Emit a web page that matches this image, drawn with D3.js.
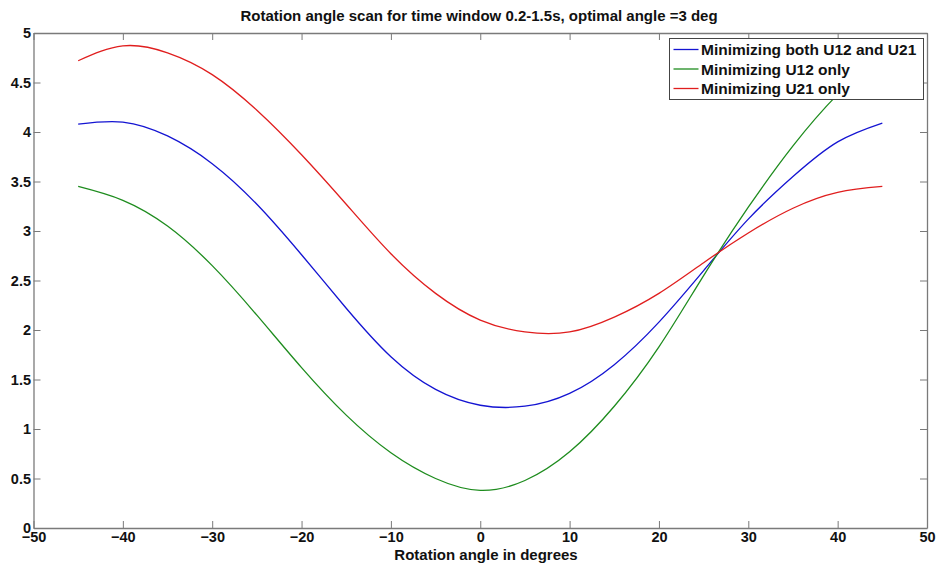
<!DOCTYPE html>
<html>
<head>
<meta charset="utf-8">
<script src="https://cdn.jsdelivr.net/npm/d3@7"></script>
<style>
  body { margin: 0; background: #fff; }
  text { font-family: "Liberation Sans", Arial, sans-serif; font-weight: bold; }
</style>
</head>
<body>
<div id="chart"></div>
<script>
// rotation angle (deg)
var angles = [-45, -40, -35, -30, -25, -20, -15, -10, -5, 0, 5, 10, 15, 20, 25, 30, 35, 40, 45];
// series
var both = [4.08, 4.10, 3.96, 3.68, 3.27, 2.76, 2.22, 1.73, 1.40, 1.24, 1.23, 1.36, 1.65, 2.08, 2.60, 3.12, 3.55, 3.90, 4.09];
var u12only = [3.45, 3.31, 3.05, 2.65, 2.15, 1.62, 1.14, 0.76, 0.50, 0.38, 0.48, 0.77, 1.23, 1.83, 2.55, 3.24, 3.86, 4.38, 4.80];
var u21only = [4.72, 4.87, 4.80, 4.58, 4.22, 3.77, 3.27, 2.77, 2.37, 2.10, 1.98, 1.98, 2.13, 2.37, 2.68, 2.98, 3.23, 3.39, 3.45];
var xTicks = [-50, -40, -30, -20, -10, 0, 10, 20, 30, 40, 50];
var yTicks = [0, 0.5, 1, 1.5, 2, 2.5, 3, 3.5, 4, 4.5, 5];

var series = [
    { name: "Minimizing both U12 and U21", values: both, color: "#1414d2" },
    { name: "Minimizing U12 only", values: u12only, color: "#1e8c1e" },
    { name: "Minimizing U21 only", values: u21only, color: "#e01e1e" }
];

var W = 938, H = 567;
var margin = { top: 33, right: 11, bottom: 39, left: 33.5 };
var width = W - margin.left - margin.right, height = H - margin.top - margin.bottom;

var svg = d3.select("#chart").append("svg")
    .attr("width", W).attr("height", H);
var g = svg.append("g")
    .attr("transform", "translate(" + margin.left + "," + margin.top + ")");

var x = d3.scaleLinear().domain([-50, 50]).range([0, width]);
var y = d3.scaleLinear().domain([0, 5]).range([height, 0]);

var axisColor = "#7a7a7a";

// curves
var line = d3.line()
    .x(function (d) { return x(d[0]); })
    .y(function (d) { return y(d[1]); })
    .curve(d3.curveNatural);

series.forEach(function (s) {
    g.append("path")
        .datum(angles.map(function (a, i) { return [a, s.values[i]]; }))
        .attr("fill", "none")
        .attr("stroke", s.color)
        .attr("stroke-width", 1.3)
        .attr("d", line);
});

// axes (ticks inward, mirrored on top/right)
function styleAxis(sel) {
    sel.select(".domain").attr("stroke", axisColor).attr("stroke-width", 1.3);
    sel.selectAll(".tick line").attr("stroke", axisColor);
    sel.selectAll(".tick text").attr("fill", "#111").style("font-size", "14.5px");
}

var xAxis = g.append("g")
    .attr("transform", "translate(0," + height + ")")
    .call(d3.axisBottom(x).tickValues(xTicks).tickSizeInner(-7).tickSizeOuter(0).tickPadding(4));
styleAxis(xAxis);

var yAxis = g.append("g")
    .call(d3.axisLeft(y).tickValues(yTicks).tickSizeInner(-7).tickSizeOuter(0).tickPadding(2.5)
        .tickFormat(function (d) { return d3.format("")(d); }));
styleAxis(yAxis);

var xTop = g.append("g")
    .call(d3.axisTop(x).tickValues(xTicks).tickSizeInner(-7).tickSizeOuter(0).tickFormat(""));
styleAxis(xTop);

var yRight = g.append("g")
    .attr("transform", "translate(" + width + ",0)")
    .call(d3.axisRight(y).tickValues(yTicks).tickSizeInner(-7).tickSizeOuter(0).tickFormat(""));
styleAxis(yRight);

// title & x label
svg.append("text")
    .attr("x", 479).attr("y", 21)
    .attr("text-anchor", "middle")
    .style("font-size", "15px")
    .attr("fill", "#111")
    .text("Rotation angle scan for time window 0.2-1.5s, optimal angle =3 deg");

svg.append("text")
    .attr("x", 486).attr("y", 560)
    .attr("text-anchor", "middle")
    .style("font-size", "15px")
    .attr("fill", "#111")
    .text("Rotation angle in degrees");

// legend
var lg = svg.append("g").attr("transform", "translate(669.5,38.5)");
lg.append("rect")
    .attr("width", 254).attr("height", 61)
    .attr("fill", "#fff").attr("stroke", "#444").attr("stroke-width", 1);
series.forEach(function (s, i) {
    var yy = 11 + i * 19.5;
    lg.append("line")
        .attr("x1", 4).attr("x2", 29).attr("y1", yy).attr("y2", yy)
        .attr("stroke", s.color).attr("stroke-width", 1.3);
    lg.append("text")
        .attr("x", 31.5).attr("y", yy).attr("dy", "0.36em")
        .style("font-size", "15.5px")
        .attr("fill", "#111")
        .text(s.name);
});
</script>
</body>
</html>
